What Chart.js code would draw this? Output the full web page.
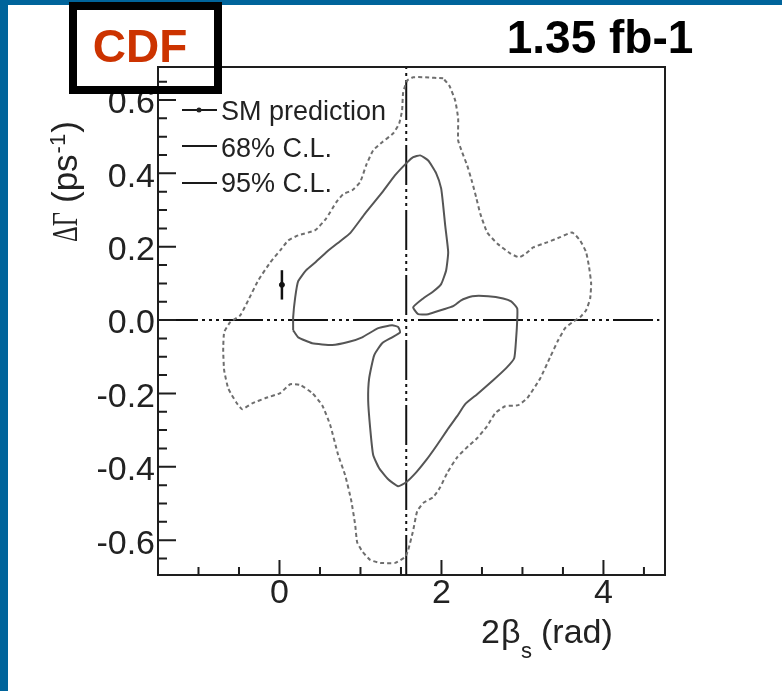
<!DOCTYPE html>
<html>
<head>
<meta charset="utf-8">
<script src="https://cdn.jsdelivr.net/npm/chart.js@4.4.0/dist/chart.umd.min.js"></script>
<style>
  html, body { margin: 0; padding: 0; background: #fff; }
  #plot { display: block; }
</style>
</head>
<body>
<canvas id="plot" width="782" height="691"></canvas>
<script>
// 2beta_s (rad) vs DeltaGamma (ps^-1) confidence regions, CDF 1.35 fb-1

// 95% C.L. contour, closed loop
var cl95X = [2.021, 1.799, 1.651, 1.577, 1.527, 1.514, 1.478, 1.404, 1.268, 1.157, 1.070, 0.996, 0.898, 0.786, 0.700, 0.577,
  0.441, 0.231, 0.107, 0.009, -0.115, -0.263, -0.386, -0.485, -0.609, -0.683, -0.695, -0.683, -0.633, -0.535, -0.460, -0.337,
  -0.177, 0.009, 0.132, 0.256, 0.404, 0.527, 0.626, 0.725, 0.811, 0.885, 0.935, 0.959, 1.021, 1.120, 1.243, 1.428,
  1.552, 1.589, 1.651, 1.700, 1.774, 1.898, 1.984, 2.070, 2.194, 2.330, 2.441, 2.564, 2.663, 2.786, 2.947, 3.058,
  3.219, 3.342, 3.441, 3.527, 3.614, 3.712, 3.786, 3.836, 3.848, 3.823, 3.786, 3.712, 3.614, 3.465, 3.305, 3.132,
  3.046, 2.959, 2.848, 2.688, 2.564, 2.478, 2.428, 2.379, 2.317, 2.256, 2.206, 2.206, 2.169, 2.095, 2.021];
var cl95Y = [0.659, 0.662, 0.662, 0.653, 0.621, 0.572, 0.536, 0.509, 0.485, 0.463, 0.422, 0.376, 0.354, 0.343, 0.321, 0.277,
  0.245, 0.231, 0.217, 0.190, 0.157, 0.108, 0.054, 0.013, -0.006, -0.033, -0.082, -0.137, -0.186, -0.224, -0.243, -0.227,
  -0.213, -0.199, -0.175, -0.177, -0.199, -0.232, -0.286, -0.368, -0.423, -0.491, -0.559, -0.606, -0.630, -0.654, -0.662, -0.662,
  -0.646, -0.627, -0.573, -0.521, -0.499, -0.483, -0.456, -0.417, -0.374, -0.344, -0.322, -0.289, -0.254, -0.235, -0.232, -0.213,
  -0.159, -0.101, -0.055, -0.022, -0.006, 0.008, 0.027, 0.059, 0.100, 0.144, 0.185, 0.217, 0.239, 0.226, 0.212, 0.198,
  0.182, 0.171, 0.182, 0.209, 0.239, 0.291, 0.335, 0.376, 0.422, 0.457, 0.490, 0.550, 0.599, 0.640, 0.659];

// 68% C.L. contour, closed loop
var cl68X = [0.169, 0.169, 0.194, 0.231, 0.330, 0.441, 0.589, 0.749, 0.873, 1.058, 1.268, 1.428, 1.577, 1.651, 1.737, 1.836,
  1.935, 1.996, 2.021, 2.046, 2.083, 2.058, 1.996, 1.898, 1.774, 1.651, 1.712, 1.836, 2.021, 2.144, 2.243, 2.379,
  2.577, 2.762, 2.860, 2.935, 2.935, 2.922, 2.898, 2.799, 2.638, 2.441, 2.293, 2.194, 2.070, 1.935, 1.811, 1.688,
  1.564, 1.465, 1.342, 1.231, 1.157, 1.120, 1.095, 1.107, 1.169, 1.268, 1.391, 1.490, 1.465, 1.391, 1.219, 1.021,
  0.848, 0.651, 0.404, 0.231, 0.169];
var cl68Y = [-0.028, 0.008, 0.062, 0.106, 0.136, 0.157, 0.187, 0.215, 0.237, 0.291, 0.348, 0.395, 0.430, 0.444, 0.449, 0.435,
  0.400, 0.359, 0.313, 0.258, 0.185, 0.136, 0.098, 0.078, 0.059, 0.035, 0.016, 0.016, 0.029, 0.038, 0.054, 0.065,
  0.065, 0.059, 0.051, 0.032, -0.001, -0.050, -0.104, -0.131, -0.164, -0.202, -0.229, -0.262, -0.300, -0.344, -0.382, -0.415,
  -0.442, -0.453, -0.434, -0.404, -0.368, -0.295, -0.219, -0.159, -0.096, -0.063, -0.047, -0.033, -0.019, -0.014, -0.022, -0.047,
  -0.060, -0.068, -0.063, -0.047, -0.028];

// SM prediction with its error on DeltaGamma
var smX = [0.03];
var smY = [0.096];
var smErr = [0.04];

// reference lines: DeltaGamma = 0 and 2beta_s = pi/2
var zeroLineX = [-1.5, 4.69];
var zeroLineY = [0, 0];
var halfPiX = [1.565, 1.565];
var halfPiY = [-0.695, 0.69];

// axis ranges and ticks
var xRange = [-1.5, 4.76];
var yRange = [-0.695, 0.69];
var xTickVals = [0, 2, 4];
var xTickLabels = ['0', '2', '4'];
var yTickVals = [-0.6, -0.4, -0.2, 0, 0.2, 0.4, 0.6];
var yTickLabels = ['-0.6', '-0.4', '-0.2', '0.0', '0.2', '0.4', '0.6'];
var xMinorStep = 0.5;
var yMinorStep = 0.05;

var dashDot = [40, 4, 3, 4, 3, 4, 3, 4];
var SANS = '"Liberation Sans", Arial, sans-serif';
var SERIF = '"Liberation Serif", "Times New Roman", serif';

function pairs(xs, ys) {
  return xs.map(function (x, i) { return { x: x, y: ys[i] }; });
}

function findTick(vals, v) {
  for (var i = 0; i < vals.length; i++) {
    if (Math.abs(vals[i] - v) < 1e-6) return i;
  }
  return -1;
}

// minor + major tick positions across a range
function tickList(lo, hi, step) {
  var out = [];
  var start = Math.ceil(lo / step - 1e-6);
  var end = Math.floor(hi / step + 1e-6);
  for (var k = start; k <= end; k++) {
    out.push({ value: Math.round(k * step * 1000) / 1000 });
  }
  return out;
}

// white page with the blue slide border
var backdrop = {
  id: 'backdrop',
  beforeDraw: function (chart) {
    var c = chart.ctx;
    c.save();
    c.fillStyle = '#ffffff';
    c.fillRect(0, 0, chart.width, chart.height);
    c.fillStyle = '#00649b';
    c.fillRect(0, 0, 8, chart.height);
    c.fillRect(0, 0, chart.width, 5);
    c.restore();
  }
};

// error bar for the SM point
var smErrorBar = {
  id: 'smErrorBar',
  afterDatasetsDraw: function (chart) {
    var c = chart.ctx, xs = chart.scales.x, ys = chart.scales.y;
    c.save();
    c.strokeStyle = '#111';
    c.lineWidth = 2.5;
    smX.forEach(function (x, i) {
      var px = xs.getPixelForValue(x);
      c.beginPath();
      c.moveTo(px, ys.getPixelForValue(smY[i] + smErr[i]));
      c.lineTo(px, ys.getPixelForValue(smY[i] - smErr[i]));
      c.stroke();
    });
    c.restore();
  }
};

// closed frame and ticks pointing inward
var frame = {
  id: 'frame',
  afterDraw: function (chart) {
    var c = chart.ctx, a = chart.chartArea;
    var xs = chart.scales.x, ys = chart.scales.y;
    c.save();
    c.strokeStyle = '#1e1e1e';
    c.lineWidth = 2;
    c.beginPath();
    c.moveTo(a.left, a.top);
    c.lineTo(a.right, a.top);
    c.lineTo(a.right, a.bottom);
    c.stroke();
    c.beginPath();
    xs.ticks.forEach(function (t) {
      var px = xs.getPixelForValue(t.value);
      var len = findTick(xTickVals, t.value) >= 0 ? 15 : 8;
      c.moveTo(px, a.bottom);
      c.lineTo(px, a.bottom - len);
    });
    ys.ticks.forEach(function (t) {
      var py = ys.getPixelForValue(t.value);
      var len = findTick(yTickVals, t.value) >= 0 ? 18 : 9;
      c.moveTo(a.left, py);
      c.lineTo(a.left + len, py);
    });
    c.stroke();
    c.restore();
  }
};

// axis titles, legend, experiment box and luminosity
var annotations = {
  id: 'annotations',
  afterDraw: function (chart) {
    var c = chart.ctx;
    c.save();
    c.fillStyle = '#222';
    c.textBaseline = 'alphabetic';
    c.textAlign = 'left';

    // x title: 2beta_s (rad)
    c.font = '34px ' + SANS;
    c.fillText('2', 481, 643);
    c.fillText('\u03b2', 501, 643);
    c.font = '22px ' + SANS;
    c.fillText('s', 521, 658);
    c.font = '34px ' + SANS;
    c.fillText('(rad)', 541, 643);

    // y title: DeltaGamma (ps^-1), reading upward
    c.save();
    c.translate(77, 242);
    c.rotate(-Math.PI / 2);
    c.save();
    c.scale(0.68, 1);
    c.font = '36px ' + SERIF;
    c.fillText('\u0394\u0393', 0, 0);
    c.restore();
    c.font = '35px ' + SANS;
    c.fillText('(ps', 39, 0);
    var w = c.measureText('(ps').width;
    c.font = '22px ' + SANS;
    c.fillText('-1', 39 + w + 1, -12);
    var w2 = c.measureText('-1').width;
    c.font = '35px ' + SANS;
    c.fillText(')', 39 + w + w2 + 2, 0);
    c.restore();

    // legend
    var rows = [
      { text: 'SM prediction', line: 110, base: 120, dot: true },
      { text: '68% C.L.', line: 146, base: 157 },
      { text: '95% C.L.', line: 183, base: 192 }
    ];
    c.font = '27px ' + SANS;
    c.strokeStyle = '#1a1a1a';
    c.lineWidth = 2;
    rows.forEach(function (r) {
      c.beginPath();
      c.moveTo(182, r.line);
      c.lineTo(217, r.line);
      c.stroke();
      if (r.dot) {
        c.beginPath();
        c.arc(199, r.line, 2.5, 0, Math.PI * 2);
        c.fill();
      }
      c.fillText(r.text, 221, r.base);
    });

    // experiment box
    c.strokeStyle = '#000';
    c.lineWidth = 8;
    c.strokeRect(73, 6, 145, 84);
    c.font = 'bold 46px ' + SANS;
    c.fillStyle = '#cc3300';
    c.textAlign = 'center';
    c.fillText('CDF', 140, 62);

    // luminosity
    c.fillStyle = '#000';
    c.fillText('1.35 fb-1', 600, 53);
    c.restore();
  }
};

var ctx = document.getElementById('plot').getContext('2d');

var chart = new Chart(ctx, {
  type: 'scatter',
  data: {
    datasets: [
      {
        label: '95% C.L.',
        data: pairs(cl95X, cl95Y),
        showLine: true,
        borderColor: '#6e6e6e',
        borderWidth: 2,
        borderDash: [4, 3],
        pointRadius: 0,
        tension: 0.15
      },
      {
        label: '68% C.L.',
        data: pairs(cl68X, cl68Y),
        showLine: true,
        borderColor: '#555555',
        borderWidth: 2,
        pointRadius: 0,
        tension: 0.15
      },
      {
        label: 'DeltaGamma = 0',
        data: pairs(zeroLineX, zeroLineY),
        showLine: true,
        borderColor: '#111',
        borderWidth: 2,
        borderDash: dashDot,
        pointRadius: 0
      },
      {
        label: '2beta_s = pi/2',
        data: pairs(halfPiX, halfPiY),
        showLine: true,
        borderColor: '#111',
        borderWidth: 2,
        borderDash: dashDot,
        pointRadius: 0
      },
      {
        label: 'SM prediction',
        data: pairs(smX, smY),
        pointRadius: 2.5,
        pointBackgroundColor: '#111',
        pointBorderColor: '#111'
      }
    ]
  },
  options: {
    responsive: false,
    animation: false,
    events: [],
    layout: { padding: { left: 0, top: 67, right: 117, bottom: 0 } },
    plugins: {
      legend: { display: false },
      tooltip: { enabled: false }
    },
    scales: {
      x: {
        type: 'linear',
        min: xRange[0],
        max: xRange[1],
        grid: { display: false, drawTicks: false },
        border: { display: true, color: '#1e1e1e', width: 2 },
        afterBuildTicks: function (scale) {
          scale.ticks = tickList(xRange[0] + 0.01, xRange[1], xMinorStep);
        },
        afterFit: function (scale) { scale.height = 116; },
        ticks: {
          autoSkip: false,
          maxRotation: 0,
          minRotation: 0,
          padding: -2,
          color: '#222',
          font: { family: SANS, size: 34 },
          callback: function (value) {
            var i = findTick(xTickVals, value);
            return i >= 0 ? xTickLabels[i] : '';
          }
        }
      },
      y: {
        type: 'linear',
        min: yRange[0],
        max: yRange[1],
        grid: { display: false, drawTicks: false },
        border: { display: true, color: '#1e1e1e', width: 2 },
        afterBuildTicks: function (scale) {
          scale.ticks = tickList(yRange[0], yRange[1], yMinorStep);
        },
        afterFit: function (scale) { scale.width = 158; },
        ticks: {
          autoSkip: false,
          padding: 3,
          labelOffset: 4,
          color: '#222',
          font: { family: SANS, size: 34 },
          callback: function (value) {
            var i = findTick(yTickVals, value);
            return i >= 0 ? yTickLabels[i] : '';
          }
        }
      }
    }
  },
  plugins: [backdrop, smErrorBar, frame, annotations]
});
</script>
</body>
</html>
